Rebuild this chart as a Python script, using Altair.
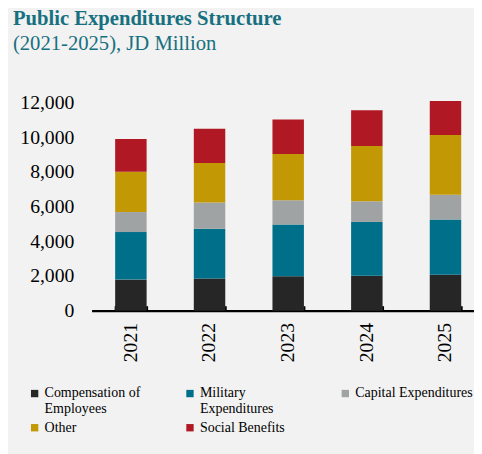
import altair as alt
import pandas as pd

years = ["2021", "2022", "2023", "2024", "2025"]
categories = ["Compensation of Employees", "Military Expenditures",
              "Capital Expenditures", "Other", "Social Benefits"]
compensation = [1790, 1850, 1985, 2020, 2075]
military = [2745, 2875, 2985, 3100, 3180]
capital = [1155, 1515, 1400, 1190, 1440]
other = [2325, 2285, 2665, 3195, 3440]
social = [1890, 1970, 2000, 2065, 1970]
colors = ["#262626", "#006F8A", "#A0A3A3", "#C29904", "#B01924"]
y_ticks = [0, 2000, 4000, 6000, 8000, 10000, 12000]

series = [compensation, military, capital, other, social]
rows = []
for ci, (cat, vals) in enumerate(zip(categories, series)):
    for yr, v in zip(years, vals):
        rows.append({"Year": yr, "Category": cat, "Value": v, "idx": ci})
df = pd.DataFrame(rows)

FONT = "Liberation Serif"
W, H = 389, 215

xscale = alt.Scale(paddingInner=0.6, paddingOuter=0.23125, align=0.6486)

label_expr = (
    "datum.label == 'Compensation of Employees' ? ['Compensation of', ' Employees'] : "
    "datum.label == 'Military Expenditures' ? ['Military', ' Expenditures'] : "
    "datum.label == 'Capital Expenditures' ? ['Capital Expenditures', ' '] : datum.label"
)

bars = alt.Chart(df).mark_bar().encode(
    x=alt.X("Year:O", scale=xscale, title=None,
            axis=alt.Axis(orient="bottom", domain=False, ticks=False,
                          labelAngle=270, labelFont=FONT, labelFontSize=20,
                          labelColor="#000000", labelPadding=12)),
    y=alt.Y("Value:Q", stack="zero", title=None,
            scale=alt.Scale(domain=[0, 12200], nice=False),
            axis=alt.Axis(values=y_ticks, format=",.0f", domain=False, ticks=False,
                          grid=False, labelFont=FONT, labelFontSize=20,
                          labelColor="#000000", labelPadding=18)),
    color=alt.Color("Category:N", scale=alt.Scale(domain=categories, range=colors),
                    legend=alt.Legend(
                        title=None, orient="none", legendX=-65, legendY=292,
                        direction="horizontal",
                        columns=3, gridAlign="all", columnPadding=21, rowPadding=4,
                        symbolType="square", symbolSize=56, symbolStrokeWidth=0,
                        labelFont=FONT, labelFontSize=14.2, labelColor="#000000",
                        labelLimit=300, labelOffset=3, padding=0,
                        labelExpr=label_expr)),
    order=alt.Order("idx:Q", sort="ascending"),
)

axis_layer = alt.Chart(df).mark_point(opacity=0).encode(
    x=alt.X("Year:O", scale=xscale, title=None,
            axis=alt.Axis(orient="top", offset=-H, labels=False, domain=True,
                          domainColor="#000000", domainWidth=2.5, ticks=True,
                          tickBand="extent", tickSize=5, tickWidth=2,
                          tickColor="#000000")),
)

chart = alt.layer(bars, axis_layer).resolve_axis(x="independent").properties(
    width=W, height=H,
    autosize=alt.AutoSizeParams(type="none"),
    padding={"left": 85, "top": 89, "right": 0, "bottom": 142},
    background="#F2F2F2",
    title=alt.TitleParams(
        text="Public Expenditures Structure",
        subtitle="(2021-2025), JD Million",
        anchor="start", frame="group", dx=-80, offset=40,
        font=FONT, fontSize=21, fontWeight="bold", color="#17707F",
        subtitleFont=FONT, subtitleFontSize=21, subtitleColor="#17707F",
        subtitlePadding=4),
).configure(font=FONT).configure_view(stroke=None)

chart.save("out.html", embed_options={"renderer": "svg", "actions": False})
